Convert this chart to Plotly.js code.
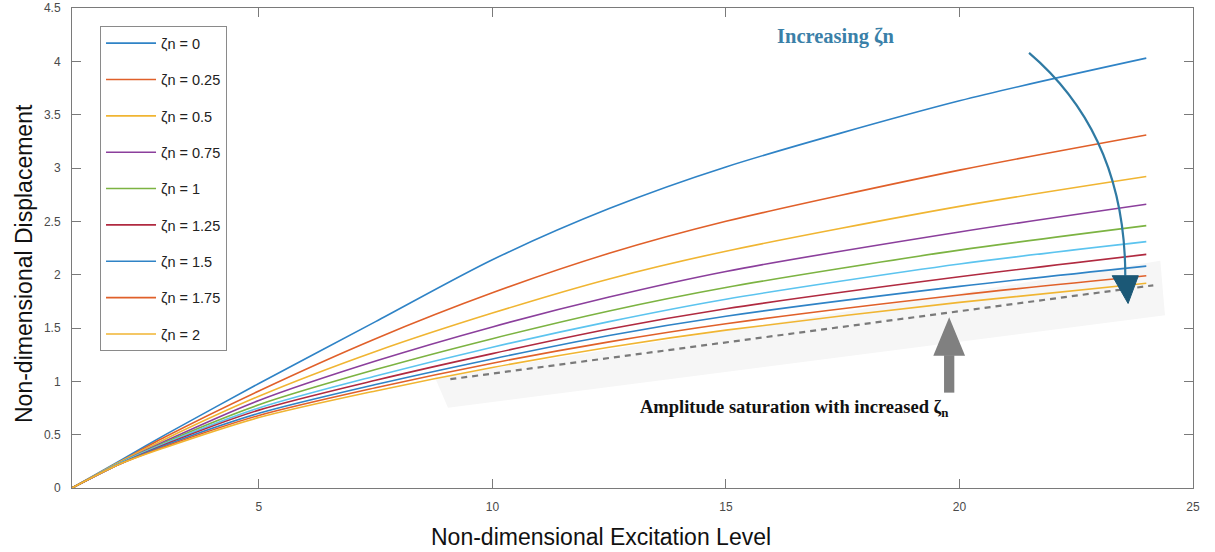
<!DOCTYPE html>
<html>
<head>
<meta charset="utf-8">
<script src="https://cdn.plot.ly/plotly-3.0.1.min.js"></script>
<style>html,body{margin:0;padding:0;background:#fff;}#chart{width:1215px;height:552px;}</style>
</head>
<body>
<div id="chart"></div>
<script>
// Excitation levels (x)
const excitation = [1, 2, 3, 5, 7.5, 10, 12.5, 15, 20, 24];

// Displacement for each curve (legend label, or null for the unlabelled curve)
const seriesNames = ["ζn = 0", "ζn = 0.25", "ζn = 0.5", "ζn = 0.75", "ζn = 1", null, "ζn = 1.25", "ζn = 1.5", "ζn = 1.75", "ζn = 2"];
const disp_0    = [0, 0.25, 0.50, 0.98, 1.56, 2.14, 2.62, 3.01, 3.63, 4.03];
const disp_025  = [0, 0.24, 0.48, 0.91, 1.40, 1.83, 2.20, 2.50, 2.98, 3.31];
const disp_05   = [0, 0.24, 0.46, 0.86, 1.28, 1.64, 1.96, 2.22, 2.64, 2.92];
const disp_075  = [0, 0.23, 0.44, 0.82, 1.19, 1.51, 1.79, 2.03, 2.40, 2.66];
const disp_1    = [0, 0.23, 0.43, 0.78, 1.11, 1.40, 1.66, 1.88, 2.23, 2.46];
const disp_x    = [0, 0.23, 0.42, 0.75, 1.05, 1.32, 1.56, 1.77, 2.10, 2.31];
const disp_125  = [0, 0.22, 0.41, 0.73, 1.01, 1.26, 1.49, 1.68, 1.98, 2.19];
const disp_15   = [0, 0.22, 0.40, 0.70, 0.97, 1.21, 1.43, 1.61, 1.89, 2.08];
const disp_175  = [0, 0.22, 0.39, 0.68, 0.94, 1.17, 1.37, 1.54, 1.81, 1.99];
const disp_2    = [0, 0.22, 0.38, 0.66, 0.91, 1.13, 1.32, 1.48, 1.74, 1.92];
const seriesValues = [disp_0, disp_025, disp_05, disp_075, disp_1, disp_x, disp_125, disp_15, disp_175, disp_2];
const seriesColors = ["#2f83c6", "#e0602a", "#f0b532", "#8b3f9c", "#7cb342", "#5cc4ef", "#b02a40", "#2f83c6", "#e0602a", "#f0b532"];

// Saturation (dashed) line
const satX = [9.1, 24.15];
const satY = [1.02, 1.90];

// Tick labels
const xTicks = [5, 10, 15, 20, 25];
const yTicks = [0, 0.5, 1, 1.5, 2, 2.5, 3, 3.5, 4, 4.5];

const traces = seriesValues.map((vals, i) => ({
  x: excitation, y: vals, type: "scatter", mode: "lines",
  line: {color: seriesColors[i], width: 1.6, shape: "spline", smoothing: 0.8},
  name: seriesNames[i] || " ",
  showlegend: seriesNames[i] !== null,
  legendgroup: "g" + i,
  hoverinfo: "skip"
}));
traces.push({
  x: satX, y: satY, type: "scatter", mode: "lines",
  line: {color: "#7a7a7a", width: 2.2, dash: "6px,5px"},
  name: "saturation", showlegend: false, hoverinfo: "skip"
});

const axisCommon = {
  showgrid: false, zeroline: false, showline: true, mirror: "ticks",
  linecolor: "#7a7a7a", linewidth: 1, ticks: "inside", ticklen: 9, tickcolor: "#7a7a7a",
  tickfont: {family: "Liberation Sans, Arial, sans-serif", size: 12, color: "#4a4a4a"},
  ticklabelstandoff: 8,
  automargin: false
};

const titleFont = {family: "Liberation Sans, Arial, sans-serif", size: 23, color: "#111"};

const layout = {
  width: 1215, height: 552,
  margin: {l: 72, r: 22, t: 8, b: 64},
  paper_bgcolor: "#ffffff", plot_bgcolor: "#ffffff",
  showlegend: true,
  xaxis: Object.assign({}, axisCommon, {
    range: [1, 25], tickvals: xTicks, ticktext: xTicks.map(String)
  }),
  yaxis: Object.assign({}, axisCommon, {
    range: [0, 4.5], tickvals: yTicks, ticktext: yTicks.map(String)
  }),
  legend: {
    x: 0.025, y: 0.962, xanchor: "left", yanchor: "top",
    bgcolor: "#ffffff", bordercolor: "#8a8a8a", borderwidth: 1,
    font: {family: "Liberation Sans, Arial, sans-serif", size: 14.5, color: "#222"},
    tracegroupgap: 14.5, itemwidth: 50
  },
  shapes: [
    // soft grey band behind the saturated curves
    {type: "path", xref: "x", yref: "y", layer: "below",
     path: "M 8.77,1.035 L 24.30,2.13 L 24.40,1.62 L 9.05,0.753 Z",
     fillcolor: "#f6f6f6", line: {width: 0}},
    // curved "increasing" arrow
    {type: "path", xref: "x", yref: "y",
     path: "M 21.49,4.08 Q 23.55,3.31 23.55,1.99",
     line: {color: "#2f7aa3", width: 2.2}},
    {type: "path", xref: "x", yref: "y",
     path: "M 23.27,1.99 L 23.83,1.99 L 23.61,1.73 Z",
     fillcolor: "#1b5876", line: {color: "#1b5876", width: 1}},
    // grey upward arrow
    {type: "rect", xref: "x", yref: "y", x0: 19.67, x1: 19.89, y0: 0.894, y1: 1.245,
     fillcolor: "#808080", line: {width: 0}},
    {type: "path", xref: "x", yref: "y",
     path: "M 19.44,1.24 L 20.12,1.24 L 19.78,1.60 Z",
     fillcolor: "#808080", line: {width: 0}}
  ],
  annotations: [
    {x: 17.34, y: 4.23, xref: "x", yref: "y", showarrow: false,
     text: "<b>Increasing ζn</b>",
     font: {family: "Liberation Serif, Times New Roman, serif", size: 20.5, color: "#3a80a8"}},
    {x: 16.45, y: 0.75, xref: "x", yref: "y", showarrow: false,
     text: "<b>Amplitude saturation with increased ζ<sub>n</sub></b>",
     font: {family: "Liberation Serif, Times New Roman, serif", size: 18.5, color: "#111"}},
    // axis titles
    {x: 0.472, y: -0.102, xref: "paper", yref: "paper", showarrow: false,
     xanchor: "center", yanchor: "middle",
     text: "Non-dimensional Excitation Level", font: titleFont},
    {x: -0.0428, y: 0.4667, xref: "paper", yref: "paper", showarrow: false,
     xanchor: "center", yanchor: "middle", textangle: -90,
     text: "Non-dimensional Displacement", font: titleFont}
  ]
};

Plotly.newPlot("chart", traces, layout, {displayModeBar: false, staticPlot: true});
</script>
</body>
</html>
